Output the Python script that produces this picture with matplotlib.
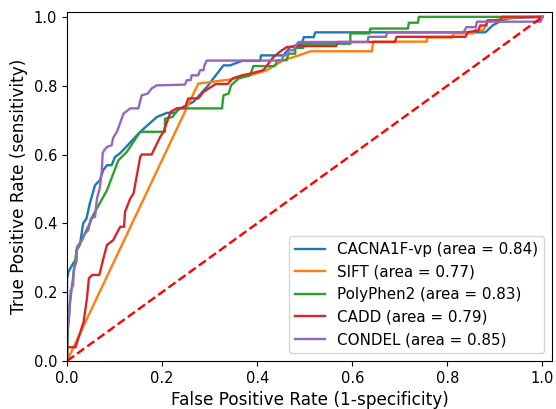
import matplotlib
matplotlib.use("Agg")
import matplotlib.pyplot as plt

# ROC curve vertices (fpr, tpr)
labels = ["CACNA1F-vp", "SIFT", "PolyPhen2", "CADD", "CONDEL"]
areas = [0.84, 0.77, 0.83, 0.79, 0.85]

fpr_vp = [0, 0, 0.003, 0.013, 0.019, 0.02, 0.027, 0.034, 0.041, 0.048, 0.059, 0.069, 0.076, 0.084,
          0.094, 0.101, 0.112, 0.154, 0.189, 0.21, 0.227, 0.238, 0.266, 0.294, 0.329, 0.343, 0.368,
          0.406, 0.408, 0.455, 0.469, 0.494, 0.498, 0.519, 0.522, 0.88, 0.895, 0.915, 0.93, 1.0]
tpr_vp = [0, 0.237, 0.259, 0.284, 0.293, 0.322, 0.337, 0.4, 0.414, 0.458, 0.511, 0.525, 0.554, 0.569,
          0.569, 0.593, 0.604, 0.666, 0.709, 0.721, 0.721, 0.734, 0.753, 0.796, 0.859, 0.859, 0.872,
          0.872, 0.888, 0.888, 0.912, 0.922, 0.941, 0.941, 0.955, 0.955, 0.975, 0.99, 0.996, 1.0]

fpr_sift = [0, 0.276, 0.343, 0.385, 0.42, 0.455, 0.49, 0.512, 0.641, 0.644, 0.757, 0.757, 0.81,
            0.813, 0.855, 0.859, 0.876, 0.884, 0.929, 1.0]
tpr_sift = [0, 0.806, 0.818, 0.83, 0.845, 0.874, 0.889, 0.9, 0.9, 0.928, 0.928, 0.94, 0.94,
            0.952, 0.952, 0.962, 0.962, 0.986, 0.998, 1.0]

fpr_pp2 = [0, 0.002, 0.006, 0.013, 0.02, 0.034, 0.048, 0.055, 0.084, 0.108, 0.126, 0.154, 0.206,
           0.206, 0.222, 0.235, 0.326, 0.329, 0.34, 0.345, 0.361, 0.385, 0.392, 0.437, 0.443, 0.462,
           0.466, 0.48, 0.48, 0.497, 0.497, 0.596, 0.596, 0.636, 0.638, 0.717, 0.719, 0.738, 0.74, 1.0]
tpr_pp2 = [0, 0.09, 0.167, 0.245, 0.322, 0.361, 0.4, 0.424, 0.496, 0.583, 0.608, 0.666, 0.666,
           0.704, 0.709, 0.734, 0.734, 0.772, 0.777, 0.801, 0.821, 0.83, 0.857, 0.857, 0.874, 0.874,
           0.893, 0.893, 0.91, 0.91, 0.922, 0.922, 0.952, 0.952, 0.966, 0.966, 0.983, 0.983, 1.0, 1.0]

fpr_cadd = [0, 0, 0.018, 0.035, 0.042, 0.046, 0.053, 0.068, 0.076, 0.084, 0.097, 0.112, 0.12, 0.122,
            0.133, 0.14, 0.154, 0.157, 0.178, 0.196, 0.203, 0.218, 0.232, 0.248, 0.255, 0.276, 0.287,
            0.313, 0.338, 0.348, 0.368, 0.385, 0.413, 0.434, 0.449, 0.462, 0.49, 0.566, 0.569, 0.69,
            0.693, 0.838, 0.843, 0.865, 0.869, 0.882, 0.884, 0.912, 0.915, 1.0]
tpr_cadd = [0, 0.04, 0.04, 0.114, 0.182, 0.24, 0.25, 0.25, 0.295, 0.337, 0.351, 0.39, 0.39, 0.433,
            0.472, 0.487, 0.593, 0.6, 0.6, 0.651, 0.666, 0.724, 0.735, 0.735, 0.763, 0.763, 0.782,
            0.805, 0.805, 0.821, 0.83, 0.835, 0.845, 0.883, 0.9, 0.912, 0.915, 0.915, 0.927, 0.927,
            0.942, 0.942, 0.956, 0.96, 0.975, 0.975, 0.99, 0.99, 1.0, 1.0]

fpr_condel = [0, 0, 0.004, 0.008, 0.013, 0.014, 0.02, 0.021, 0.032, 0.038, 0.045, 0.05, 0.059, 0.063,
              0.069, 0.073, 0.075, 0.078, 0.084, 0.094, 0.097, 0.105, 0.11, 0.114, 0.119, 0.133, 0.15,
              0.157, 0.17, 0.178, 0.189, 0.248, 0.252, 0.26, 0.262, 0.276, 0.28, 0.287, 0.289, 0.294,
              0.452, 0.455, 0.463, 0.466, 0.477, 0.48, 0.487, 0.632, 0.634, 0.671, 0.673, 0.834, 0.84,
              0.86, 0.862, 0.996, 1.0]
tpr_condel = [0, 0.085, 0.12, 0.206, 0.221, 0.264, 0.29, 0.332, 0.351, 0.371, 0.38, 0.414, 0.419, 0.472,
              0.503, 0.55, 0.603, 0.612, 0.622, 0.627, 0.648, 0.666, 0.685, 0.7, 0.719, 0.734, 0.734,
              0.772, 0.777, 0.792, 0.801, 0.803, 0.816, 0.816, 0.83, 0.83, 0.845, 0.845, 0.859, 0.873,
              0.873, 0.888, 0.888, 0.903, 0.903, 0.915, 0.927, 0.927, 0.942, 0.942, 0.955, 0.955, 0.97,
              0.97, 0.986, 0.986, 1.0]

curves = [(fpr_vp, tpr_vp), (fpr_sift, tpr_sift), (fpr_pp2, tpr_pp2),
          (fpr_cadd, tpr_cadd), (fpr_condel, tpr_condel)]

plt.figure(figsize=(5.56, 4.09), dpi=100)
plt.subplots_adjust(left=0.1205, right=0.9928, bottom=0.1174, top=0.9714)

for (fpr, tpr), name, auc in zip(curves, labels, areas):
    plt.plot(fpr, tpr, linewidth=1.7, label="%s (area = %0.2f)" % (name, auc))

plt.plot([0, 1], [0, 1], color="red", linestyle="--", linewidth=1.7)

plt.xlim([0.0, 1.02])
plt.ylim([0.0, 1.015])
plt.xlabel("False Positive Rate (1-specificity)", fontsize=12.2)
plt.ylabel("True Positive Rate (sensitivity)", fontsize=12.2)
plt.tick_params(axis="both", labelsize=10.5)
plt.legend(loc="lower right", fontsize=10.9)

plt.savefig("out.png", dpi=100)
